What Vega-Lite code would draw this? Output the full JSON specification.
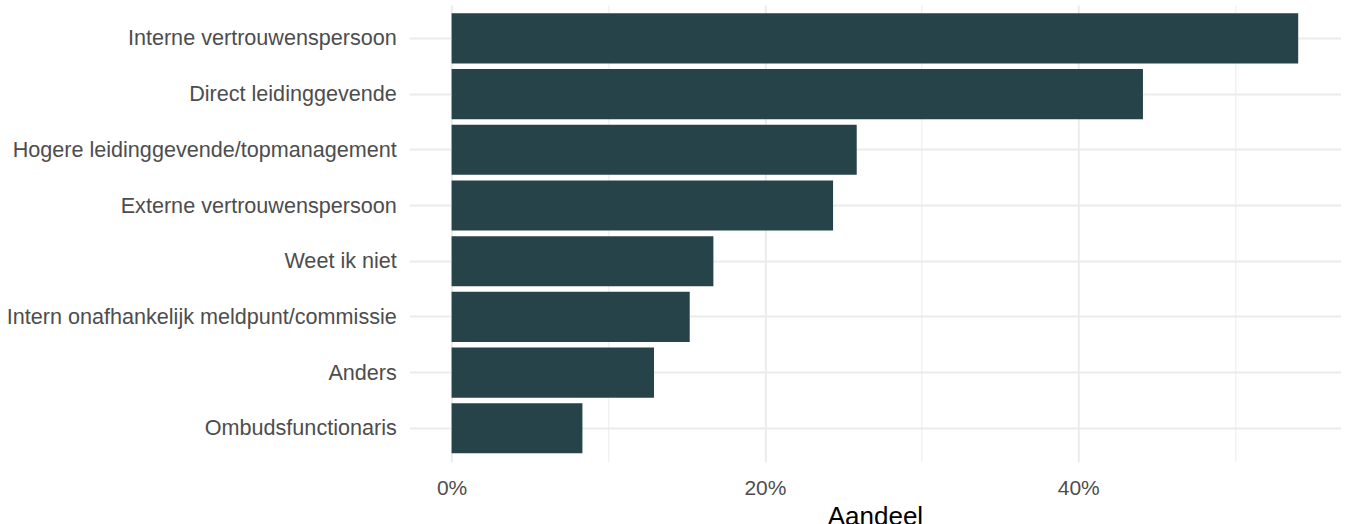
{
  "$schema": "https://vega.github.io/schema/vega-lite/v6.json",
  "autosize": {"type": "none"},
  "padding": {"left": 409.3, "top": 5, "right": 11.5, "bottom": 62.3},
  "width": 931.2,
  "height": 456.7,
  "background": "white",
  "config": {
    "view": {"stroke": null},
    "font": "Liberation Sans"
  },
  "data": {
    "values": [
      {"categorie": "Interne vertrouwenspersoon", "aandeel": 54.04},
      {"categorie": "Direct leidinggevende", "aandeel": 44.13},
      {"categorie": "Hogere leidinggevende/topmanagement", "aandeel": 25.86},
      {"categorie": "Externe vertrouwenspersoon", "aandeel": 24.35},
      {"categorie": "Weet ik niet", "aandeel": 16.71},
      {"categorie": "Intern onafhankelijk meldpunt/commissie", "aandeel": 15.2},
      {"categorie": "Anders", "aandeel": 12.92},
      {"categorie": "Ombudsfunctionaris", "aandeel": 8.35}
    ]
  },
  "mark": {"type": "bar", "color": "#27434A"},
  "encoding": {
    "y": {
      "field": "categorie",
      "type": "nominal",
      "sort": {"field": "aandeel", "order": "descending"},
      "scale": {"paddingInner": 0.1, "paddingOuter": 0.15},
      "axis": {
        "title": null,
        "domain": false,
        "ticks": false,
        "grid": true,
        "bandPosition": 0.5,
        "gridColor": "#EBEBEB",
        "gridWidth": 2,
        "labelFontSize": 21.6,
        "labelColor": "#4D4D4D",
        "labelPadding": 13,
        "labelLimit": 0,
        "labelOffset": 1
      }
    },
    "x": {
      "field": "aandeel",
      "type": "quantitative",
      "scale": {"domain": [-2.7, 56.74], "nice": false, "zero": false},
      "axis": {
        "title": "Aandeel",
        "values": [0, 10, 20, 30, 40, 50],
        "labelExpr": "datum.value % 20 === 0 ? datum.value + '%' : ''",
        "domain": false,
        "ticks": false,
        "grid": true,
        "gridColor": {"condition": {"test": "datum.value % 20 === 0", "value": "#EBEBEB"}, "value": "#F0F0F0"},
        "gridWidth": {"condition": {"test": "datum.value % 20 === 0", "value": 1.9}, "value": 1.3},
        "labelFontSize": 21,
        "labelColor": "#4D4D4D",
        "labelPadding": 16,
        "titleFontSize": 26,
        "titleFontWeight": "normal",
        "titleColor": "#000000",
        "titlePadding": 5
      }
    },
    "x2": {"datum": 0}
  }
}
